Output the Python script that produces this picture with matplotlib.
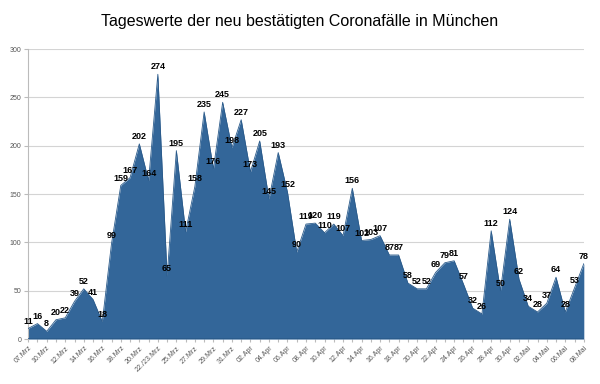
import matplotlib
matplotlib.use("Agg")
import matplotlib.pyplot as plt

plt.rcParams['font.family'] = ['Liberation Sans', 'DejaVu Sans']

# Tage (22./23.Mrz zusammengefasst, 08./09.Mrz ebenso)
days = ["07.Mrz", "08./09.Mrz"] + ["%02d.Mrz" % d for d in range(10, 22)] + ["22./23.Mrz"] \
    + ["%02d.Mrz" % d for d in range(24, 32)] + ["%02d.Apr" % d for d in range(1, 31)] \
    + ["%02d.Mai" % d for d in range(1, 9)]

cases = [11, 16, 8, 20, 22, 39, 52, 41, 18, 99, 159, 167, 202, 164, 274, 65, 195, 111,
         158, 235, 176, 245, 198, 227, 173, 205, 145, 193, 152, 90, 119, 120, 110, 119,
         107, 156, 102, 103, 107, 87, 87, 58, 52, 52, 69, 79, 81, 57, 32, 26, 112, 50,
         124, 62, 34, 28, 37, 64, 28, 53, 78]

yticks = [0, 50, 100, 150, 200, 250, 300]

fig = plt.figure(figsize=(6, 3.84), dpi=100)
ax = fig.add_axes([0.047, 0.117, 0.926, 0.755])

x = list(range(len(cases)))
ax.fill_between(x, cases, 0, color="#336699", linewidth=0, zorder=2)
ax.plot(x, cases, color="#2a5a8a", linewidth=0.6, zorder=3)
ax.axhline(0, color="#2a5a8a", linewidth=1.2, zorder=4)

for xi, v in zip(x, cases):
    ax.text(xi, v + 3, str(v), ha="center", va="bottom", fontsize=6.5,
            fontweight="bold", color="black", zorder=5)

ax.set_xlim(0, len(cases) - 1)
ax.set_ylim(0, 300)
ax.set_yticks(yticks)
ax.set_yticklabels([str(t) for t in yticks], fontsize=5, color="#555555")
ax.set_xticks(x)
ax.set_xticklabels([d if i % 2 == 0 else "" for i, d in enumerate(days)],
                   rotation=45, ha="right", rotation_mode="anchor",
                   fontsize=5, color="#555555")
ax.tick_params(axis="x", length=2, color="#bbbbbb", pad=2)
ax.tick_params(axis="y", length=3, color="#bbbbbb", pad=2)
ax.grid(axis="y", color="#d4d4d4", linewidth=0.8, zorder=1)
for s in ["top", "right", "bottom"]:
    ax.spines[s].set_visible(False)
ax.spines["left"].set_color("#bbbbbb")

fig.text(0.5, 0.945, "Tageswerte der neu bestätigten Coronafälle in München",
         ha="center", va="center", fontsize=11.5, color="black")

fig.savefig("out.png", dpi=100)
